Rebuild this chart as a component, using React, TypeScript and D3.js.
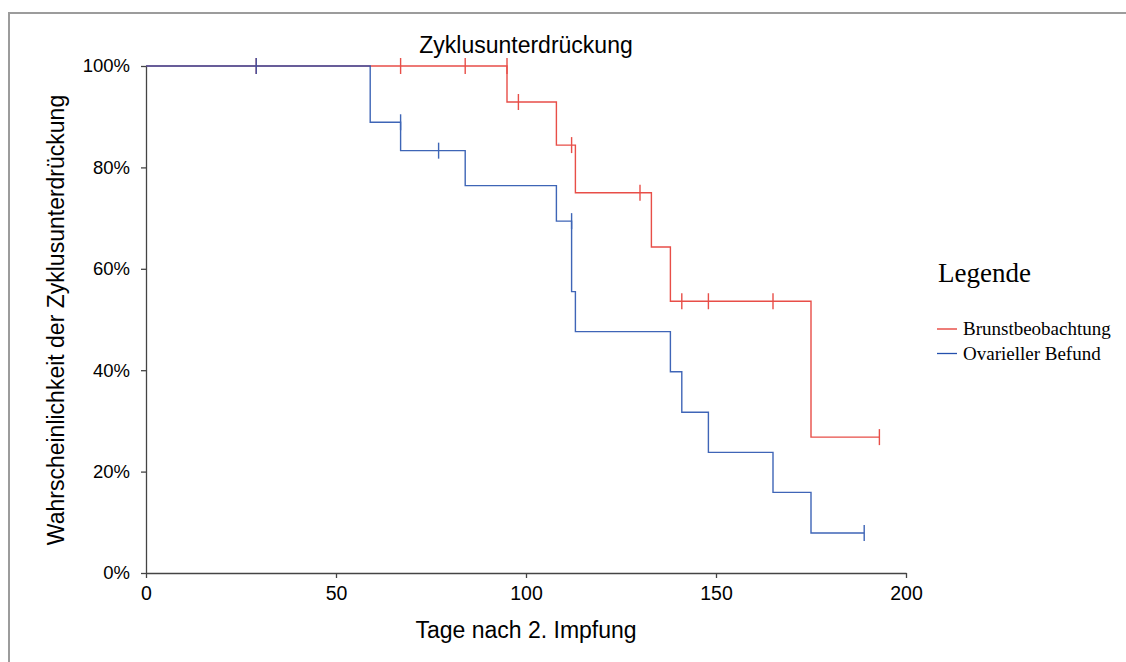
import React, { useEffect, useRef } from 'react';
import * as d3 from 'd3';

// Kaplan-Meier Schätzung
const redTimes = [0, 95, 108, 113, 133, 138, 175, 193];
const redValues = [100, 92.9, 84.4, 75.0, 64.3, 53.6, 26.8, 26.8];
const redCensored = [29, 67, 84, 95, 98, 112, 130, 141, 148, 165, 193];

const blueTimes = [0, 59, 67, 84, 108, 112, 113, 138, 141, 148, 165, 175, 189];
const blueValues = [100, 88.9, 83.3, 76.4, 69.4, 55.5, 47.6, 39.7, 31.7, 23.8, 15.9, 7.9, 7.9];
const blueCensored = [29, 67, 77, 112, 189];

const xTicks = [0, 50, 100, 150, 200];
const yTicks = [0, 20, 40, 60, 80, 100];

const seriesNames = ['Brunstbeobachtung', 'Ovarieller Befund'];
const seriesColors = ['#e5362f', '#2450ad'];

const App: React.FC = () => {
  const svgRef = useRef<SVGSVGElement | null>(null);

  useEffect(() => {
    const svg = d3.select(svgRef.current);
    svg.selectAll('*').remove();
    const width = 1126;
    const height = 662;
    const margin = { top: 66, right: 220, bottom: 89, left: 146 };
    const sans = '"Liberation Sans", Arial, sans-serif';
    const serif = '"Liberation Serif", "Times New Roman", serif';

    svg.attr('width', width).attr('height', height);

    // Rahmen
    svg.append('rect')
      .attr('x', 9).attr('y', 13)
      .attr('width', 1300).attr('height', 800)
      .attr('fill', 'none')
      .attr('stroke', '#9c9c9c')
      .attr('stroke-width', 2);

    const x = d3.scaleLinear()
      .domain([0, 200])
      .range([margin.left, width - margin.right]);

    const y = d3.scaleLinear()
      .domain([0, 100])
      .range([height - margin.bottom, margin.top]);

    const series = [
      { times: redTimes, values: redValues, censored: redCensored },
      { times: blueTimes, values: blueValues, censored: blueCensored },
    ];

    const line = d3.line<[number, number]>()
      .x(d => x(d[0]))
      .y(d => y(d[1]))
      .curve(d3.curveStepAfter);

    // Kurven
    series.forEach((s, i) => {
      const pts: [number, number][] = s.times.map((t, j) => [t, s.values[j]]);
      const g = svg.append('g').attr('opacity', 0.88);
      g.append('path')
        .datum(pts)
        .attr('d', line)
        .attr('fill', 'none')
        .attr('stroke', seriesColors[i])
        .attr('stroke-width', 1.4);

      // Zensierungen (Wert direkt vor dem Zeitpunkt)
      const survAt = (t: number) => {
        let v = 100;
        s.times.forEach((tt, j) => { if (tt < t) v = s.values[j]; });
        return v;
      };
      g.selectAll('line.cens')
        .data(s.censored)
        .enter()
        .append('line')
        .attr('x1', d => x(d))
        .attr('x2', d => x(d))
        .attr('y1', d => y(survAt(d)) - 8)
        .attr('y2', d => y(survAt(d)) + 8)
        .attr('stroke', seriesColors[i])
        .attr('stroke-width', 1.4);
    });

    // X axis
    const xAxis = svg.append('g')
      .attr('transform', `translate(0,${height - margin.bottom})`)
      .call(d3.axisBottom(x).tickValues(xTicks).tickSize(5).tickPadding(8).tickSizeOuter(0));
    xAxis.selectAll('text').attr('font-size', 19.5).attr('font-family', sans).attr('fill', '#000');

    // Y axis
    const yAxis = svg.append('g')
      .attr('transform', `translate(${margin.left},0)`)
      .call(d3.axisLeft(y).tickValues(yTicks).tickFormat(d => `${d}%`).tickSize(5).tickPadding(11).tickSizeOuter(0));
    yAxis.selectAll('text').attr('font-size', 18.5).attr('font-family', sans).attr('fill', '#000');

    [xAxis, yAxis].forEach(a => {
      a.select('.domain').attr('stroke', '#444').attr('stroke-width', 1.3);
      a.selectAll('.tick line').attr('stroke', '#444').attr('stroke-width', 1.3);
    });

    // Titel
    svg.append('text')
      .attr('x', 526).attr('y', 53)
      .attr('text-anchor', 'middle')
      .attr('font-family', sans)
      .attr('font-size', 23)
      .text('Zyklusunterdrückung');

    // X axis label
    svg.append('text')
      .attr('x', 526).attr('y', 638)
      .attr('text-anchor', 'middle')
      .attr('font-family', sans)
      .attr('font-size', 23)
      .text('Tage nach 2. Impfung');

    // Y axis label
    svg.append('text')
      .attr('transform', 'rotate(-90)')
      .attr('x', -320).attr('y', 64)
      .attr('text-anchor', 'middle')
      .attr('font-family', sans)
      .attr('font-size', 23)
      .text('Wahrscheinlichkeit der Zyklusunterdrückung');

    // Legende
    svg.append('text')
      .attr('x', 938).attr('y', 282)
      .attr('font-family', serif)
      .attr('font-size', 27)
      .text('Legende');

    const legend = svg.append('g')
      .selectAll('g')
      .data(seriesNames)
      .enter()
      .append('g')
      .attr('transform', (d, i) => `translate(937,${329 + i * 24.5})`);
    legend.append('line')
      .attr('x1', 0).attr('x2', 20)
      .attr('stroke', (d, i) => seriesColors[i])
      .attr('stroke-width', 1.3);
    legend.append('text')
      .attr('x', 26).attr('y', 6)
      .attr('font-family', serif)
      .attr('font-size', 19)
      .text(d => d);
  }, []);

  return (
    <svg ref={svgRef} style={{ position: 'absolute', left: 0, top: 0 }}></svg>
  );
};

export default App;
